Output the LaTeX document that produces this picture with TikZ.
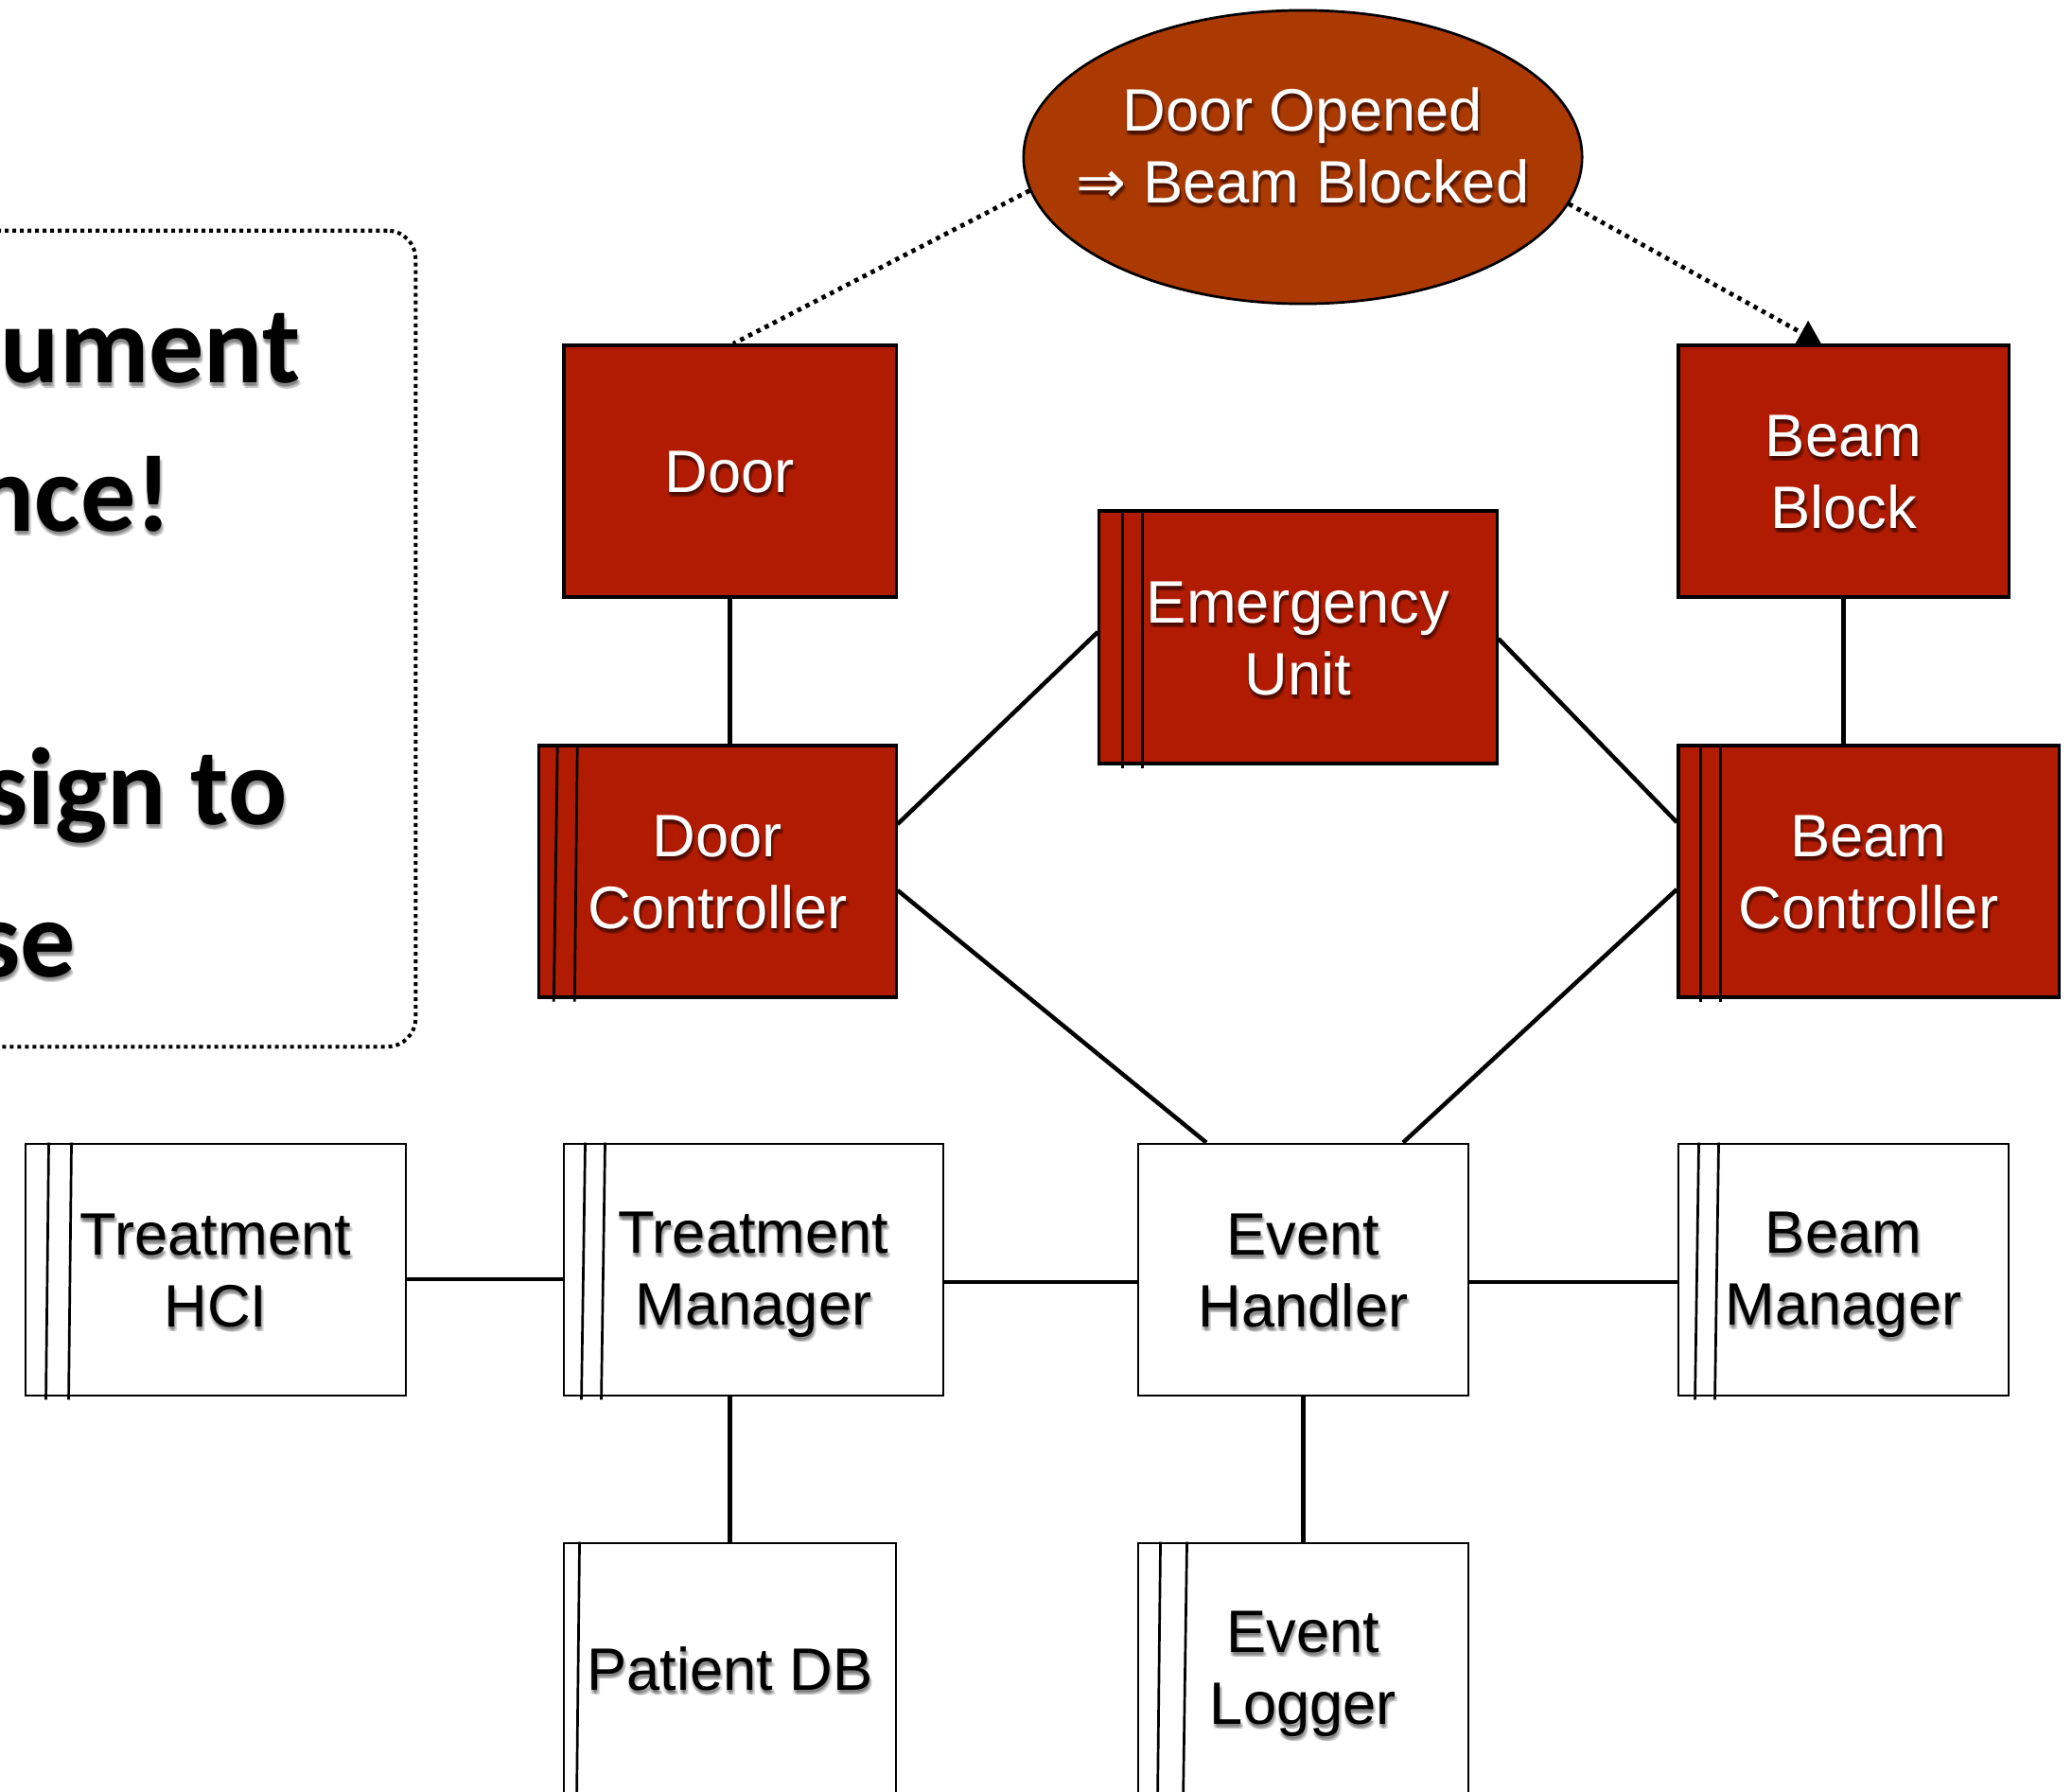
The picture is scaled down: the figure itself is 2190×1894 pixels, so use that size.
\documentclass[tikz,border=0pt]{standalone}
\usepackage{fontspec}
\setmainfont{Liberation Sans}
\newfontfamily\calfont{Carlito}
\newfontfamily\symfont{DejaVu Sans}
\usetikzlibrary{shapes.geometric,arrows.meta,calc}

\definecolor{boxred}{RGB}{177,27,2}
\definecolor{ovalred}{RGB}{170,57,2}

% strut centred on the cap height, so multi-line labels centre visually
\newcommand\vs{\rule[-0.142em]{0pt}{1em}}

% label with a soft drop shadow: name, position, text style, shadow style, text
\newcommand\shlabel[5]{%
  \foreach \dx/\dy [count=\k] in {0/2,2/3,1/5,-1/4,3/5}
    {\node[#4] (#1s\k) at ([shift={(\dx,\dy)}]#2) {#5};}
  \node[#3] (#1) at (#2) {#5};
}

\begin{document}
\begin{tikzpicture}[x=0.01cm,y=-0.01cm,
  redbox/.style={rectangle, draw=black, line width=0.032cm, fill=boxred,
    inner sep=0, minimum height=2.66cm},
  whitebox/.style={rectangle, draw=black, line width=0.027cm, fill=white,
    inner sep=0, minimum height=2.66cm},
  conn/.style={line width=0.045cm},
  dotline/.style={line width=0.048cm, dash pattern=on 0.045cm off 0.052cm},
  bar/.style={line width=0.027cm},
  lbl/.style={align=center, inner sep=0, font=\fontsize{18}{21.6}\selectfont},
  wlbl/.style={lbl, text=white},
  blbl/.style={lbl, text=black},
  wshade/.style={lbl, text=black!75!boxred, opacity=0.25},
  bshade/.style={lbl, text=black, opacity=0.13},
  big/.style={inner sep=0, anchor=base east,
    font=\calfont\bfseries\fontsize{33}{40}\selectfont},
  bigtxt/.style={big, text=black},
  bigshade/.style={big, text=black, opacity=0.12},
]
\useasboundingbox (0,0) rectangle (2190,1894);

% note box on the left, running off the page
\node[rectangle, draw=black, line width=0.04cm,
  dash pattern=on 0.04cm off 0.04cm, rounded corners=0.3cm,
  minimum width=10.39cm, minimum height=8.62cm, inner sep=0]
  (note) at (-80.5,675) {};
\shlabel{n1}{318,405}{bigtxt}{bigshade}{ument}
\shlabel{n2}{182,561}{bigtxt}{bigshade}{nce!}
\shlabel{n3}{304,871}{bigtxt}{bigshade}{sign to}
\shlabel{n4}{81,1032}{bigtxt}{bigshade}{se}

% invariant
\node[ellipse, draw=black, line width=0.027cm, fill=ovalred,
  minimum width=5.9cm, minimum height=3.1cm, inner sep=0] (ev) at (1377,166) {};

% safety-critical components
\node[redbox, minimum width=3.51cm] (door) at (771.5,498) {};
\node[redbox, minimum width=3.49cm] (bb)   at (1948.5,498) {};
\node[redbox, minimum width=4.2cm, minimum height=2.67cm] (eu) at (1372,673.5) {};
\node[redbox, minimum width=3.77cm] (dc)   at (758.5,921) {};
\node[redbox, minimum width=4.02cm] (bc)   at (1975,921) {};

% remaining components
\node[whitebox, minimum width=4.02cm] (thci) at (228,1342) {};
\node[whitebox, minimum width=4.01cm] (tm)   at (796.5,1342) {};
\node[whitebox, minimum width=3.49cm] (evh)  at (1377.5,1342) {};
\node[whitebox, minimum width=3.49cm] (bm)   at (1948.5,1342) {};
\node[whitebox, minimum width=3.51cm] (pdb)  at (771.5,1764) {};
\node[whitebox, minimum width=3.49cm] (elog) at (1377.5,1764) {};

% side bars
\draw[bar] ($(dc.north west)+(21,0)$) -- ($(dc.south west)+(17,3)$);
\draw[bar] ($(dc.north west)+(42,0)$) -- ($(dc.south west)+(39,3)$);
\draw[bar] ($(eu.north west)+(26,0)$) -- ($(eu.south west)+(26,3)$);
\draw[bar] ($(eu.north west)+(47,0)$) -- ($(eu.south west)+(47,3)$);
\draw[bar] ($(bc.north west)+(25,0)$) -- ($(bc.south west)+(25,3)$);
\draw[bar] ($(bc.north west)+(46,0)$) -- ($(bc.south west)+(46,3)$);
\draw[bar] ($(thci.north west)+(26,0)$) -- ($(thci.south west)+(23,3)$);
\draw[bar] ($(thci.north west)+(50,0)$) -- ($(thci.south west)+(47,3)$);
\draw[bar] ($(tm.north west)+(24,0)$) -- ($(tm.south west)+(20,3)$);
\draw[bar] ($(tm.north west)+(45,0)$) -- ($(tm.south west)+(41,3)$);
\draw[bar] ($(bm.north west)+(23,0)$) -- ($(bm.south west)+(19,3)$);
\draw[bar] ($(bm.north west)+(44,0)$) -- ($(bm.south west)+(40,3)$);
\draw[bar] ($(pdb.north west)+(18,0)$) -- ($(pdb.south west)+(15,3)$);
\draw[bar] ($(elog.north west)+(25,0)$) -- ($(elog.south west)+(22,3)$);
\draw[bar] ($(elog.north west)+(53,0)$) -- ($(elog.south west)+(49,3)$);

% labels
\shlabel{evt}{1377,154}{wlbl}{wshade}{\vs Door Opened\\\vs{\symfont ⇒} Beam Blocked}
\shlabel{doort}{door.center}{wlbl}{wshade}{\vs Door}
\shlabel{bbt}{bb.center}{wlbl}{wshade}{\vs Beam\\\vs Block}
\shlabel{eut}{eu.center}{wlbl}{wshade}{\vs Emergency\\\vs Unit}
\shlabel{dct}{dc.center}{wlbl}{wshade}{\vs Door\\\vs Controller}
\shlabel{bct}{bc.center}{wlbl}{wshade}{\vs Beam\\\vs Controller}
\shlabel{thcit}{thci.center}{blbl}{bshade}{\vs Treatment\\\vs HCI}
\shlabel{tmt}{tm.center}{blbl}{bshade}{\vs Treatment\\\vs Manager}
\shlabel{evht}{evh.center}{blbl}{bshade}{\vs Event\\\vs Handler}
\shlabel{bmt}{bm.center}{blbl}{bshade}{\vs Beam\\\vs Manager}
\shlabel{pdbt}{pdb.center}{blbl}{bshade}{\vs Patient DB}
\shlabel{elogt}{elog.center}{blbl}{bshade}{\vs Event\\\vs Logger}

% connectors
\draw[conn] (door.south) -- (door.south |- dc.north);
\draw[conn] (bb.south) -- (bb.south |- bc.north);
\draw[conn] (dc.east |- 0,871) -- (eu.west |- 0,668);
\draw[conn] (dc.east |- 0,941) -- (1275,0 |- evh.north);
\draw[conn] (eu.east |- 0,675) -- (bc.west |- 0,869);
\draw[conn] (bc.west |- 0,940) -- (1483,0 |- evh.north);
\draw[conn] (thci.east |- 0,1352) -- (tm.west |- 0,1352);
\draw[conn] (tm.east |- 0,1355) -- (evh.west |- 0,1355);
\draw[conn] (evh.east |- 0,1355) -- (bm.west |- 0,1355);
\draw[conn] (pdb.north |- tm.south) -- (pdb.north);
\draw[conn] (elog.north |- evh.south) -- (elog.north);

% traces from the invariant
\draw[dotline] (ev.187.5) -- (775,0 |- door.north);
\draw[dotline, -{Triangle[length=0.24cm, width=0.28cm]}] (ev.-10) -- (1925,0 |- bb.north);
\end{tikzpicture}
\end{document}
